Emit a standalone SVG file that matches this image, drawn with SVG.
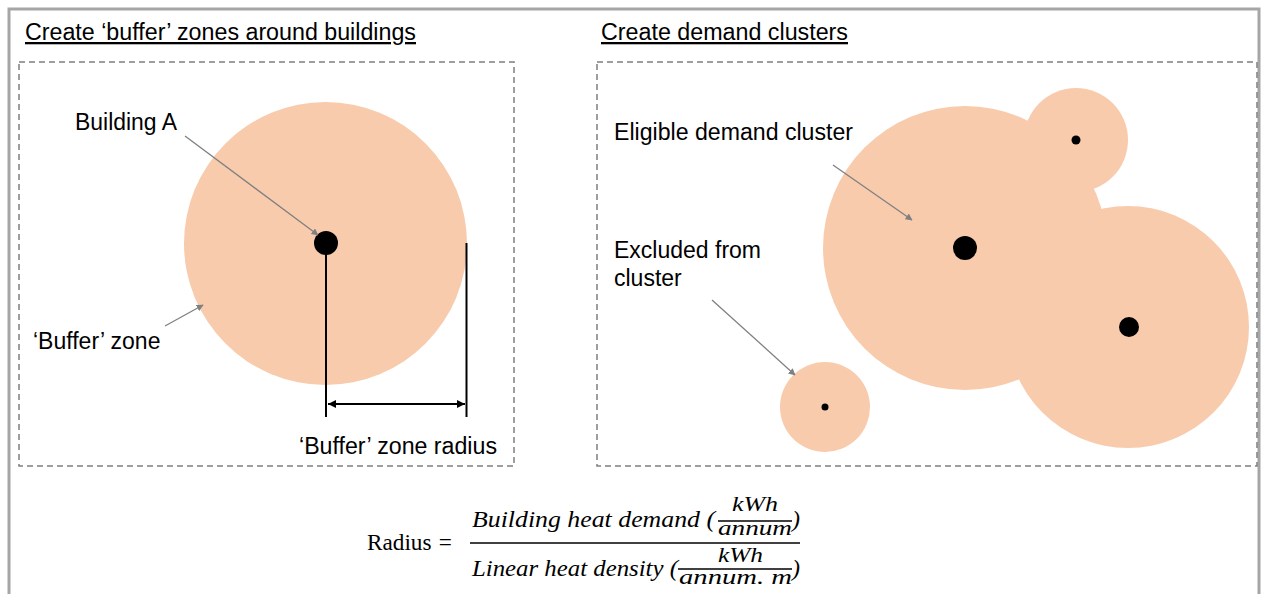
<svg xmlns="http://www.w3.org/2000/svg" width="1265" height="594" viewBox="0 0 1265 594">
  <defs>
    <style>
      .lbl { font-family: "Liberation Sans", Arial, sans-serif; font-size: 23px; fill: #000; }
      .ttl { font-family: "Liberation Sans", Arial, sans-serif; font-size: 23px; fill: #000; text-decoration: underline; }
      .math { font-family: "Liberation Serif", "DejaVu Serif", serif; font-size: 24px; fill: #000; }
      .sm { font-size: 21px; }
      .mi { font-style: italic; }
      .zone { fill: #f8cbad; }
      .dot { fill: #000; }
      .panel { fill: none; stroke: #7f7f7f; stroke-width: 1.5; stroke-dasharray: 6 4; }
      .ptr { stroke: #808080; stroke-width: 1.3; fill: none; marker-end: url(#grayArrow); }
      .dim { stroke: #000; stroke-width: 2; fill: none; }
    </style>
    <marker id="grayArrow" viewBox="0 0 10 10" refX="9" refY="5" markerWidth="7" markerHeight="7" markerUnits="userSpaceOnUse" orient="auto">
      <path d="M0,0 L10,5 L0,10 z" fill="#808080"/>
    </marker>
    <marker id="blkEnd" viewBox="0 0 10 10" refX="10" refY="5" markerWidth="8" markerHeight="8" markerUnits="userSpaceOnUse" orient="auto-start-reverse">
      <path d="M0,0 L10,5 L0,10 z" fill="#000"/>
    </marker>
  </defs>

  <!-- outer frame, open at the bottom -->
  <path d="M9,594 V9 H1259 V594" fill="none" stroke="#a6a6a6" stroke-width="3"/>

  <!-- left panel: buffer zone around one building -->
  <g id="panel-buffer">
    <text class="ttl" x="25" y="40" textLength="391" lengthAdjust="spacingAndGlyphs">Create ‘buffer’ zones around buildings</text>
    <rect class="panel" x="19" y="62" width="495" height="404"/>
  </g>
  <g id="zone-a">
    <circle class="zone" cx="325.5" cy="243.5" r="141.5"/>
    <circle class="dot" cx="326" cy="243" r="12"/>
  </g>
  <g id="label-building-a">
    <text class="lbl" x="75" y="130" textLength="102" lengthAdjust="spacingAndGlyphs">Building A</text>
  </g>
  <g id="label-buffer-zone">
    <text class="lbl" x="33" y="349">‘Buffer’ zone</text>
  </g>
  <g id="radius-dimension">
    <line class="dim" x1="326" y1="243" x2="326" y2="417"/>
    <line class="dim" x1="466.5" y1="243" x2="466.5" y2="417"/>
    <line class="dim" x1="328" y1="404" x2="465" y2="404" marker-start="url(#blkEnd)" marker-end="url(#blkEnd)"/>
    <text class="lbl" x="299" y="454" textLength="198" lengthAdjust="spacingAndGlyphs">‘Buffer’ zone radius</text>
  </g>

  <!-- right panel: demand clusters -->
  <g id="panel-clusters">
    <text class="ttl" x="601" y="40" textLength="247" lengthAdjust="spacingAndGlyphs">Create demand clusters</text>
    <rect class="panel" x="597" y="62" width="660" height="404"/>
  </g>
  <g id="cluster-eligible">
    <circle class="zone" cx="965" cy="248" r="142"/>
    <circle class="zone" cx="1076" cy="140" r="52"/>
    <circle class="zone" cx="1128" cy="327" r="121"/>
    <circle class="dot" cx="965" cy="248" r="12"/>
    <circle class="dot" cx="1076" cy="140" r="4.5"/>
    <circle class="dot" cx="1129" cy="327" r="10"/>
  </g>
  <g id="cluster-excluded">
    <circle class="zone" cx="825" cy="407" r="45"/>
    <circle class="dot" cx="825" cy="407" r="3.5"/>
  </g>
  <g id="label-eligible">
    <text class="lbl" x="614" y="140" textLength="239" lengthAdjust="spacingAndGlyphs">Eligible demand cluster</text>
  </g>
  <g id="label-excluded">
    <text class="lbl" x="614" y="258">Excluded from</text>
    <text class="lbl" x="614" y="286">cluster</text>
  </g>

  <!-- pointer arrows -->
  <g id="connectors">
    <line class="ptr" x1="185" y1="136" x2="318" y2="235"/>
    <line class="ptr" x1="165" y1="326" x2="203" y2="305"/>
    <line class="ptr" x1="833" y1="165" x2="912" y2="220"/>
    <line class="ptr" x1="712" y1="300" x2="795" y2="375"/>
  </g>

  <!-- radius formula -->
  <g id="formula">
    <text class="math" x="367" y="550" textLength="86" lengthAdjust="spacingAndGlyphs">Radius<tspan class="mi"> =</tspan></text>
    <line x1="470" y1="543" x2="800" y2="543" stroke="#000" stroke-width="1.6"/>
    <text class="math mi" x="472" y="527" textLength="243" lengthAdjust="spacingAndGlyphs">Building heat demand (</text>
    <text class="math mi sm" x="732" y="511" textLength="46" lengthAdjust="spacingAndGlyphs">kWh</text>
    <line x1="718" y1="521" x2="792" y2="521" stroke="#000" stroke-width="1.3"/>
    <text class="math mi sm" x="718" y="535" textLength="74" lengthAdjust="spacingAndGlyphs">annum</text>
    <text class="math mi" x="792" y="527">)</text>
    <text class="math mi" x="472" y="576" textLength="206" lengthAdjust="spacingAndGlyphs">Linear heat density (</text>
    <text class="math mi sm" x="718" y="562" textLength="45" lengthAdjust="spacingAndGlyphs">kWh</text>
    <line x1="678" y1="569" x2="792" y2="569" stroke="#000" stroke-width="1.3"/>
    <text class="math mi sm" x="679" y="584" textLength="113" lengthAdjust="spacingAndGlyphs">annum. m</text>
    <text class="math mi" x="792" y="576">)</text>
  </g>
</svg>
